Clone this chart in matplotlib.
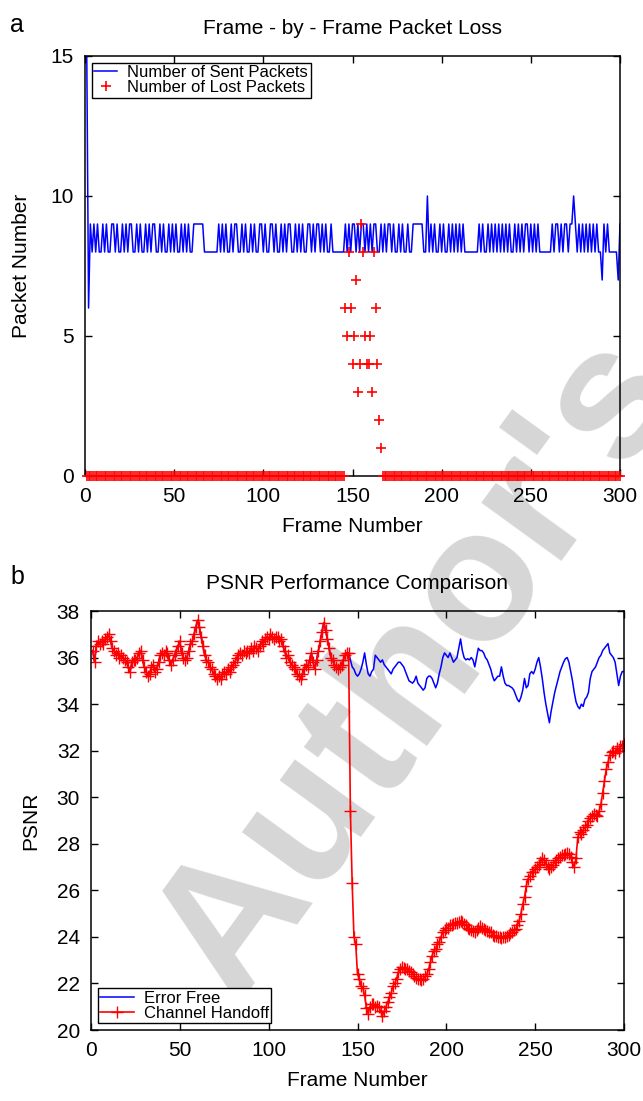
import matplotlib
matplotlib.use("Agg")
import matplotlib.pyplot as plt
import numpy as np

plt.rcParams['font.family'] = ['Liberation Sans', 'DejaVu Sans']

# ---------------- Panel a data ----------------
frames = list(range(1, 301))
sent_packets = [
    15, 6, 9, 8, 9, 8, 9, 8, 8, 9,
    8, 9, 8, 8, 9, 9, 8, 9, 8, 8,
    9, 8, 9, 8, 9, 9, 8, 8, 9, 8,
    9, 8, 8, 9, 8, 9, 8, 9, 9, 8,
    8, 9, 8, 9, 8, 8, 9, 8, 9, 8,
    9, 8, 8, 9, 8, 9, 8, 9, 8, 8,
    9, 9, 9, 9, 9, 9, 8, 8, 8, 8,
    8, 8, 8, 8, 9, 8, 9, 8, 9, 8,
    8, 9, 8, 9, 9, 8, 8, 9, 8, 9,
    8, 8, 9, 8, 9, 8, 8, 9, 9, 8,
    9, 8, 8, 9, 9, 8, 9, 8, 8, 9,
    8, 9, 8, 9, 9, 8, 8, 9, 8, 9,
    8, 9, 8, 8, 9, 9, 8, 9, 8, 9,
    9, 8, 9, 8, 9, 8, 8, 9, 8, 8,
    8, 8, 8, 8, 8, 9, 8, 9, 8, 9,
    9, 8, 9, 8, 9, 9, 8, 9, 8, 9,
    8, 9, 9, 8, 8, 9, 8, 9, 8, 9,
    9, 8, 9, 8, 8, 9, 8, 9, 8, 8,
    9, 8, 8, 9, 9, 9, 9, 9, 9, 8,
    8, 10, 8, 9, 8, 9, 8, 8, 9, 8,
    9, 8, 8, 9, 8, 9, 8, 9, 8, 9,
    8, 9, 8, 8, 8, 8, 8, 8, 8, 8,
    9, 8, 9, 8, 8, 9, 8, 9, 8, 9,
    8, 9, 8, 9, 8, 9, 8, 9, 8, 8,
    9, 8, 9, 8, 9, 8, 9, 9, 8, 9,
    8, 9, 8, 9, 8, 8, 8, 8, 8, 8,
    8, 9, 8, 9, 9, 8, 9, 8, 9, 9,
    8, 9, 9, 10, 9, 8, 9, 8, 9, 8,
    9, 8, 9, 8, 9, 8, 9, 8, 8, 7,
    9, 8, 9, 8, 8, 8, 8, 8, 7, 9,
]
# losses for frames 146..166 (all other frames lose 0 packets)
loss_burst = [6, 5, 8, 6, 4, 5, 7, 3, 4, 9, 8, 5, 4, 4, 5, 3, 8, 6, 4, 2, 1]
lost_packets = [0] * 145 + loss_burst + [0] * (300 - 145 - len(loss_burst))

# ---------------- Panel b data ----------------
psnr_error_free = [
    36.3, 35.8, 36.5, 36.7, 36.6, 36.7, 36.6, 36.8, 36.9, 37.0,
    36.7, 36.4, 36.3, 36.1, 36.2, 36.0, 36.1, 36.0, 35.9, 35.8,
    35.6, 35.4, 35.8, 35.9, 35.9, 36.0, 36.2, 36.3, 35.9, 35.6,
    35.4, 35.2, 35.3, 35.6, 35.7, 35.4, 35.5, 35.8, 36.1, 36.2,
    36.1, 36.3, 36.2, 35.9, 35.7, 35.9, 36.1, 36.3, 36.5, 36.7,
    36.2, 36.0, 35.9, 36.0, 36.3, 36.6, 36.7, 37.0, 37.3, 37.6,
    37.3, 36.9, 36.5, 36.1, 35.9, 35.8, 35.6, 35.5, 35.3, 35.2,
    35.1, 35.2, 35.1, 35.3, 35.4, 35.3, 35.5, 35.4, 35.6, 35.7,
    35.8, 36.0, 36.1, 36.2, 36.1, 36.3, 36.2, 36.3, 36.2, 36.4,
    36.3, 36.5, 36.4, 36.3, 36.5, 36.7, 36.6, 36.8, 36.9, 36.8,
    37.0, 36.9, 36.8, 36.9, 36.9, 36.7, 36.8, 36.5, 36.3, 36.0,
    36.1, 35.8, 35.7, 35.6, 35.5, 35.3, 35.2, 35.1, 35.3, 35.5,
    35.7, 35.6, 35.9, 36.2, 35.8, 35.5, 35.9, 36.3, 36.7, 37.1,
    37.5, 37.2, 36.8, 36.4, 36.0, 35.9, 35.7, 35.6, 35.5, 35.6,
    35.7, 35.9, 36.1, 36.2, 36.2, 35.9, 35.6, 35.5, 35.3, 35.2,
    35.3, 35.5, 35.8, 36.2, 35.7, 35.3, 35.2, 35.4, 35.5, 36.1,
    36.0, 35.9, 35.8, 35.9, 35.7, 35.6, 35.5, 35.4, 35.3, 35.5,
    35.6, 35.7, 35.8, 35.8, 35.7, 35.6, 35.4, 35.2, 35.0, 34.95,
    34.9, 35.0, 35.2, 34.9, 34.8, 34.7, 34.6, 34.7, 35.1, 35.2,
    35.2, 35.1, 34.9, 34.7, 34.9, 35.3, 35.6, 36.0, 36.2, 36.1,
    36.0, 36.2, 36.0, 35.8, 35.9, 36.0, 36.4, 36.8, 36.3, 36.0,
    35.9, 35.95, 35.9, 36.0, 35.9, 35.6, 36.0, 36.4, 36.3, 36.3,
    36.2, 36.0, 35.9, 35.7, 35.5, 35.2, 35.0, 35.1, 35.2, 35.2,
    35.6, 35.2, 34.9, 34.8, 34.8, 34.75, 34.7, 34.6, 34.4, 34.2,
    34.1, 34.3, 34.6, 35.1, 34.7, 34.8, 35.3, 35.4, 35.3, 35.5,
    35.8, 36.0, 35.6, 35.1, 34.5, 34.0, 33.6, 33.2, 33.7, 34.1,
    34.5, 34.8, 35.1, 35.4, 35.6, 35.8, 35.95, 36.0, 35.8, 35.4,
    35.0, 34.5, 34.1, 33.9, 33.8, 34.0, 33.9, 34.2, 34.3, 34.5,
    35.1, 35.4, 35.5, 35.6, 35.8, 36.0, 36.1, 36.3, 36.4, 36.5,
    36.6, 36.2, 36.1, 36.0, 35.8, 35.3, 34.8, 35.2, 35.4, 35.4,
]
# channel-handoff PSNR for frames 146..300 (frames 1..145 equal error-free)
psnr_handoff_after = [
    29.4, 26.3, 24.0, 23.7, 22.4, 22.2, 21.9, 21.8, 21.5, 20.95,
    20.7, 21.0, 21.1, 21.1, 21.0, 21.05, 21.0, 20.8, 20.6, 20.8,
    21.0, 21.2, 21.4, 21.6, 21.9, 22.0, 22.2, 22.5, 22.6, 22.7,
    22.65, 22.6, 22.6, 22.55, 22.5, 22.4, 22.3, 22.25, 22.2, 22.2,
    22.15, 22.2, 22.3, 22.4, 22.6, 22.9, 23.2, 23.4, 23.5, 23.7,
    23.8, 24.0, 24.2, 24.3, 24.4, 24.4, 24.5, 24.5, 24.55, 24.6,
    24.6, 24.65, 24.7, 24.65, 24.55, 24.5, 24.4, 24.35, 24.3, 24.25,
    24.2, 24.3, 24.4, 24.45, 24.4, 24.35, 24.3, 24.25, 24.2, 24.2,
    24.1, 24.05, 24.05, 24.0, 24.0, 23.95, 24.0, 24.0, 24.05, 24.1,
    24.15, 24.2, 24.3, 24.35, 24.5, 24.7, 25.0, 25.4, 25.7, 26.2,
    26.5, 26.6, 26.8, 26.8, 26.9, 27.0, 27.1, 27.2, 27.4, 27.3,
    27.15, 27.0, 26.9, 27.0, 27.1, 27.2, 27.3, 27.4, 27.45, 27.5,
    27.5, 27.55, 27.6, 27.55, 27.45, 27.2, 27.0, 27.4, 28.3, 28.5,
    28.4, 28.6, 28.7, 28.8, 29.0, 29.1, 29.2, 29.3, 29.25, 29.2,
    29.4, 29.7, 30.2, 30.7, 31.2, 31.5, 31.8, 31.95, 32.0, 31.9,
    32.1, 32.0, 32.2, 32.2, 32.3,
]
psnr_handoff = psnr_error_free[:145] + psnr_handoff_after

x_ticks = [0, 50, 100, 150, 200, 250, 300]

W, H = 643, 1101
fig = plt.figure(figsize=(W / 100, H / 100), dpi=100)

# watermark (behind the axes)
fig.text(235 / W, 1 - 1005 / H, "Author's", rotation=54,
         rotation_mode='anchor', ha='left', va='baseline', fontsize=135,
         fontweight='bold', color='#d6d6d6', zorder=-1)

def style_axes(ax):
    ax.set_facecolor('none')
    ax.tick_params(direction='in', length=5, width=1, top=True, right=True,
                   labelsize=15, pad=8, colors='black')
    for s in ax.spines.values():
        s.set_linewidth(1.1)
        s.set_color('black')

# ---------- Panel a ----------
ax1 = fig.add_axes([85 / W, 1 - 476 / H, 535 / W, 420 / H])
style_axes(ax1)
ax1.plot(frames, sent_packets, color='#0000ff', lw=1.1, label='Number of Sent Packets')
ax1.plot(frames, lost_packets, linestyle='none', marker='+', color='#ff0000',
         markersize=7, mew=1.2, clip_on=False, label='Number of Lost Packets', zorder=3)
ax1.set_xlim(0, 300)
ax1.set_ylim(0, 15)
ax1.set_xticks(x_ticks)
ax1.set_yticks([0, 5, 10, 15])
ax1.set_xlabel('Frame Number', fontsize=15, labelpad=8)
ax1.set_ylabel('Packet Number', fontsize=15, labelpad=14)
ax1.set_title('Frame - by - Frame Packet Loss', fontsize=15, pad=16)
leg1 = ax1.legend(loc='upper left', fontsize=12, frameon=True, fancybox=False,
                  edgecolor='black', framealpha=1, borderpad=0.15, labelspacing=0.0,
                  handlelength=1.4, handletextpad=0.6, borderaxespad=0.4)
leg1.get_frame().set_linewidth(1.0)
fig.text(10 / W, 1 - 25 / H, 'a', fontsize=18, va='center', ha='left')

# ---------- Panel b ----------
ax2 = fig.add_axes([91 / W, 1 - 1030 / H, 533 / W, 419 / H])
style_axes(ax2)
ax2.plot(frames, psnr_error_free, color='#0000ff', lw=1.1, label='Error Free')
ax2.plot(frames, psnr_handoff, color='#ff0000', lw=1.2, marker='+', markersize=8,
         mew=1.0, label='Channel Handoff')
ax2.set_xlim(0, 300)
ax2.set_ylim(20, 38)
ax2.set_xticks(x_ticks)
ax2.set_yticks(list(range(20, 39, 2)))
ax2.set_xlabel('Frame Number', fontsize=15, labelpad=8)
ax2.set_ylabel('PSNR', fontsize=15, labelpad=12)
ax2.set_title('PSNR Performance Comparison', fontsize=15, pad=16)
leg2 = ax2.legend(loc='lower left', fontsize=12, frameon=True, fancybox=False,
                  edgecolor='black', framealpha=1, borderpad=0.15, labelspacing=0.0,
                  handlelength=2.0, handletextpad=0.6, borderaxespad=0.4)
leg2.get_frame().set_linewidth(1.0)
fig.text(10 / W, 1 - 577 / H, 'b', fontsize=18, va='center', ha='left')

fig.savefig('out.png', dpi=100)
